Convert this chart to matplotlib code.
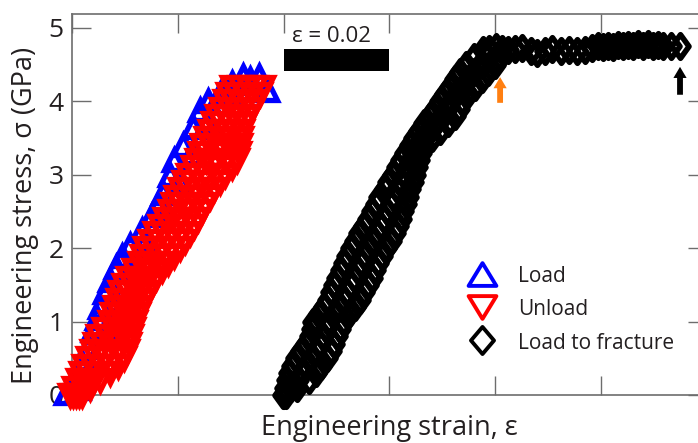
import matplotlib
matplotlib.use("Agg")
import matplotlib.pyplot as plt
from matplotlib.path import Path
from matplotlib.lines import Line2D
from matplotlib.patches import Rectangle

plt.rcParams['font.family'] = ['Open Sans', 'DejaVu Sans']

# ---------------- data (strain, stress in GPa) ----------------
load_strain = [-0.00113, 0.00075, 0.00189, 0.00302, 0.00396, 0.00472, 0.00528, 0.00623,
               0.00717, 0.00830, 0.00943, 0.01094, 0.01321, 0.01509, 0.01623, 0.01717,
               0.01849, 0.01925, 0.02094, 0.02283, 0.02415, 0.02566, 0.02792, 0.03019,
               0.03227, 0.03528,
               0.00113, 0.00434, 0.00642, 0.00811, 0.01038, 0.01377, 0.01755, 0.02038,
               0.02264, 0.02547, 0.02943, 0.03359, 0.03680]
load_stress = [0.03, 0.20, 0.44, 0.65, 0.89, 1.05, 1.20, 1.40,
               1.57, 1.75, 1.90, 2.05, 2.25, 2.45, 2.60, 2.75,
               3.00, 3.20, 3.40, 3.65, 3.88, 4.00, 4.10, 4.25,
               4.35, 4.35,
               0.10, 0.50, 0.90, 1.30, 1.70, 2.10, 2.50, 2.90,
               3.30, 3.70, 4.10, 4.30, 4.15]

unload_stress = [0.0, 0.2, 0.4, 0.6, 0.8, 1.0, 1.2, 1.4, 1.6, 1.8, 2.0,
                 2.2, 2.4, 2.6, 2.8, 3.0, 3.2, 3.4, 3.6, 3.8, 4.0, 4.2] * 5 + \
                [0.1, 0.3, 0.5, 0.7, 0.9, 1.1, 1.3, 1.5, 1.7, 1.9, 2.1,
                 2.3, 2.5, 2.7, 2.9, 3.1, 3.3, 3.5, 3.7, 3.9, 4.1] * 3
unload_strain = [
    # inner edge
    -0.00038, 0.00113, 0.00226, 0.00377, 0.00491, 0.00717, 0.00811, 0.00906, 0.01057, 0.01283, 0.01377,
    0.01566, 0.01755, 0.01906, 0.02038, 0.02189, 0.02359, 0.02453, 0.02604, 0.02736, 0.02887, 0.03019,
    # inner-middle
    0.00019, 0.00208, 0.00387, 0.00538, 0.00642, 0.00830, 0.00934, 0.01038, 0.01189, 0.01415, 0.01538,
    0.01727, 0.01897, 0.02038, 0.02180, 0.02349, 0.02529, 0.02623, 0.02755, 0.02887, 0.03029, 0.03170,
    # middle
    0.00075, 0.00302, 0.00547, 0.00698, 0.00792, 0.00943, 0.01057, 0.01170, 0.01321, 0.01547, 0.01698,
    0.01887, 0.02038, 0.02170, 0.02321, 0.02509, 0.02698, 0.02792, 0.02906, 0.03038, 0.03170, 0.03321,
    # middle-outer
    0.00132, 0.00415, 0.00708, 0.00868, 0.00953, 0.01066, 0.01180, 0.01302, 0.01453, 0.01679, 0.01868,
    0.02057, 0.02208, 0.02340, 0.02500, 0.02698, 0.02906, 0.02981, 0.03057, 0.03180, 0.03312, 0.03463,
    # outer edge
    0.00189, 0.00528, 0.00868, 0.01038, 0.01113, 0.01189, 0.01302, 0.01434, 0.01585, 0.01811, 0.02038,
    0.02226, 0.02377, 0.02509, 0.02679, 0.02887, 0.03113, 0.03170, 0.03208, 0.03321, 0.03453, 0.03604,
    # staggered rows
    0.00038, 0.00170, 0.00302, 0.00434, 0.00604, 0.00755, 0.00868, 0.00981, 0.01170, 0.01321, 0.01472,
    0.01660, 0.01849, 0.01962, 0.02113, 0.02283, 0.02415, 0.02528, 0.02660, 0.02811, 0.02943,
    0.00189, 0.00434, 0.00642, 0.00755, 0.00887, 0.01000, 0.01113, 0.01245, 0.01434, 0.01623, 0.01792,
    0.01981, 0.02151, 0.02283, 0.02453, 0.02660, 0.02792, 0.02868, 0.02962, 0.03094, 0.03245,
    0.00340, 0.00717, 0.00981, 0.01075, 0.01151, 0.01245, 0.01358, 0.01509, 0.01698, 0.01925, 0.02132,
    0.02302, 0.02453, 0.02604, 0.02792, 0.03019, 0.03151, 0.03189, 0.03264, 0.03396, 0.03547,
]

fracture_strain = [
    # left edge (even rows)
    0.03981, 0.04057, 0.04151, 0.04321, 0.04491, 0.04547, 0.04755, 0.04887, 0.05000, 0.05132, 0.05264,
    0.05415, 0.05585, 0.05736, 0.05906, 0.06075, 0.06226, 0.06396, 0.06566, 0.06774, 0.06962, 0.07151,
    0.07340, 0.07604,
    # centre (even rows)
    0.04009, 0.04264, 0.04425, 0.04604, 0.04745, 0.04830, 0.05047, 0.05198, 0.05330, 0.05453, 0.05594,
    0.05764, 0.05896, 0.06028, 0.06151, 0.06283, 0.06396, 0.06528, 0.06764, 0.07009, 0.07170, 0.07387,
    0.07604, 0.07849,
    # right edge (even rows)
    0.04038, 0.04472, 0.04698, 0.04887, 0.05000, 0.05113, 0.05340, 0.05509, 0.05660, 0.05774, 0.05925,
    0.06113, 0.06208, 0.06321, 0.06396, 0.06491, 0.06566, 0.06660, 0.06962, 0.07245, 0.07377, 0.07623,
    0.07868, 0.08094,
    # left edge (odd rows)
    0.04019, 0.04094, 0.04226, 0.04415, 0.04528, 0.04660, 0.04830, 0.04943, 0.05075, 0.05189, 0.05340,
    0.05509, 0.05660, 0.05811, 0.05981, 0.06151, 0.06302, 0.06472, 0.06660, 0.06868, 0.07057, 0.07245,
    0.07453,
    # centre (odd rows)
    0.04132, 0.04340, 0.04509, 0.04679, 0.04792, 0.04943, 0.05132, 0.05264, 0.05396, 0.05509, 0.05679,
    0.05830, 0.05962, 0.06075, 0.06208, 0.06340, 0.06453, 0.06642, 0.06887, 0.07094, 0.07264, 0.07491,
    0.07717,
    # right edge (odd rows)
    0.04245, 0.04604, 0.04811, 0.04943, 0.05057, 0.05226, 0.05434, 0.05585, 0.05717, 0.05849, 0.06019,
    0.06170, 0.06264, 0.06358, 0.06453, 0.06528, 0.06604, 0.06811, 0.07113, 0.07321, 0.07491, 0.07755,
    0.08000,
    # knee and plateau
    0.07774, 0.07887, 0.08019, 0.08132, 0.08245, 0.08377, 0.08509, 0.08679, 0.08792, 0.08943, 0.09075,
    0.09245, 0.09396, 0.09547, 0.09698, 0.09830, 0.09943, 0.10038, 0.10132, 0.10226, 0.10321, 0.10415,
    0.10509, 0.10604, 0.10698, 0.10792, 0.10887, 0.10981, 0.11075, 0.11170, 0.11321, 0.11491,
]
fracture_stress = [
    0.0, 0.2, 0.4, 0.6, 0.8, 1.0, 1.2, 1.4, 1.6, 1.8, 2.0,
    2.2, 2.4, 2.6, 2.8, 3.0, 3.2, 3.4, 3.6, 3.8, 4.0, 4.2,
    4.4, 4.6,
    0.0, 0.2, 0.4, 0.6, 0.8, 1.0, 1.2, 1.4, 1.6, 1.8, 2.0,
    2.2, 2.4, 2.6, 2.8, 3.0, 3.2, 3.4, 3.6, 3.8, 4.0, 4.2,
    4.4, 4.6,
    0.0, 0.2, 0.4, 0.6, 0.8, 1.0, 1.2, 1.4, 1.6, 1.8, 2.0,
    2.2, 2.4, 2.6, 2.8, 3.0, 3.2, 3.4, 3.6, 3.8, 4.0, 4.2,
    4.4, 4.6,
    0.1, 0.3, 0.5, 0.7, 0.9, 1.1, 1.3, 1.5, 1.7, 1.9, 2.1,
    2.3, 2.5, 2.7, 2.9, 3.1, 3.3, 3.5, 3.7, 3.9, 4.1, 4.3,
    4.5,
    0.1, 0.3, 0.5, 0.7, 0.9, 1.1, 1.3, 1.5, 1.7, 1.9, 2.1,
    2.3, 2.5, 2.7, 2.9, 3.1, 3.3, 3.5, 3.7, 3.9, 4.1, 4.3,
    4.5,
    0.1, 0.3, 0.5, 0.7, 0.9, 1.1, 1.3, 1.5, 1.7, 1.9, 2.1,
    2.3, 2.5, 2.7, 2.9, 3.1, 3.3, 3.5, 3.7, 3.9, 4.1, 4.3,
    4.5,
    4.70, 4.72, 4.74, 4.72, 4.70, 4.72, 4.73, 4.68, 4.66, 4.68, 4.72,
    4.68, 4.70, 4.68, 4.70, 4.73, 4.76, 4.74, 4.76, 4.74, 4.77, 4.75,
    4.77, 4.75, 4.78, 4.76, 4.78, 4.76, 4.77, 4.75, 4.76, 4.75,
]

series_labels = ["Load", "Unload", "Load to fracture"]
x_ticks = [0.0, 0.02, 0.04, 0.06, 0.08, 0.10, 0.12]
y_ticks = [0, 1, 2, 3, 4, 5]
scale_bar = 0.02               # strain length of scale bar
arrow_orange_strain = 0.0809   # onset of plateau
arrow_black_strain = 0.1149    # fracture
arrow_orange_stress = (3.98, 4.33)
arrow_black_stress = (4.09, 4.47)

# ---------------- figure ----------------
W, H = 698, 443
fig = plt.figure(figsize=(W / 100, H / 100), dpi=100)
ax = fig.add_axes([72 / W, 48 / H, 635 / W, 381 / H])

gray = '#6d6d6d'
txt = '#231f20'

# custom diamond (taller than wide)
diamond = Path([(0, 1), (0.72, 0), (0, -1), (-0.72, 0), (0, 1)],
               [Path.MOVETO, Path.LINETO, Path.LINETO, Path.LINETO, Path.CLOSEPOLY])

ax.plot(load_strain, load_stress, linestyle='none', marker='^', ms=14,
        mfc='none', mec='#0000ff', mew=3.8, clip_on=False, zorder=3)
ax.plot(unload_strain, unload_stress, linestyle='none', marker='v', ms=14,
        mfc='none', mec='#ff0000', mew=3.8, clip_on=False, zorder=4)
ax.plot(fracture_strain, fracture_stress, linestyle='none', marker=diamond, ms=17,
        mfc='none', mec='black', mew=4.0, clip_on=False, zorder=5)

ax.set_xlim(0, 0.12)
ax.set_ylim(0, 5.19)
ax.set_xticks(x_ticks)
ax.set_xticklabels([])
ax.set_yticks(y_ticks)
ax.set_yticklabels([str(v) for v in y_ticks])
ax.tick_params(direction='in', length=13.5, width=1.0, color=gray,
               top=True, right=True, labelsize=19, labelcolor=txt, pad=6.0)
for sp in ax.spines.values():
    sp.set_color(gray)
    sp.set_linewidth(1.2)

ax.set_xlabel('Engineering strain, ε', fontsize=19.5, color=txt)
ax.set_ylabel('Engineering stress, σ (GPa)', fontsize=19.5, color=txt)
ax.xaxis.set_label_coords(0.5, -0.051)
ax.yaxis.set_label_coords(-0.052, 0.47)

# scale bar
ax.add_patch(Rectangle((0.04, 4.41), scale_bar, 0.30, facecolor='black',
                       edgecolor='none', zorder=6))
ax.text(0.04 + scale_bar / 2 - 0.0010, 4.88, 'ε = 0.02', ha='center', va='center',
        fontsize=16, color=txt)

# arrows
style = 'simple,head_length=0.8,head_width=0.95,tail_width=0.42'
ax.annotate('', xy=(arrow_orange_strain, arrow_orange_stress[1]),
            xytext=(arrow_orange_strain, arrow_orange_stress[0]),
            arrowprops=dict(arrowstyle=style, fc='#ff7f11', ec='none',
                            mutation_scale=10, shrinkA=0, shrinkB=0))
ax.annotate('', xy=(arrow_black_strain, arrow_black_stress[1]),
            xytext=(arrow_black_strain, arrow_black_stress[0]),
            arrowprops=dict(arrowstyle=style, fc='black', ec='none',
                            mutation_scale=10, shrinkA=0, shrinkB=0))

# legend
tri_up = Path([(-1, -0.82), (1, -0.82), (0, 0.82), (-1, -0.82)],
              [Path.MOVETO, Path.LINETO, Path.LINETO, Path.CLOSEPOLY])
tri_dn = Path([(-1, 0.82), (1, 0.82), (0, -0.82), (-1, 0.82)],
              [Path.MOVETO, Path.LINETO, Path.LINETO, Path.CLOSEPOLY])
dia_l = Path([(0, 1), (0.85, 0), (0, -1), (-0.85, 0), (0, 1)],
             [Path.MOVETO, Path.LINETO, Path.LINETO, Path.LINETO, Path.CLOSEPOLY])
handles = [
    Line2D([], [], linestyle='none', marker=tri_up, ms=20, mfc='none', mec='#0000ff', mew=2.8),
    Line2D([], [], linestyle='none', marker=tri_dn, ms=20, mfc='none', mec='#ff0000', mew=2.8),
    Line2D([], [], linestyle='none', marker=dia_l, ms=19.5, mfc='none', mec='black', mew=2.8),
]
leg = ax.legend(handles, series_labels, loc='upper left',
                bbox_to_anchor=(0.6227, 0.34), frameon=False, fontsize=15,
                handlelength=1.4, handletextpad=1.03, labelspacing=0.57,
                borderpad=0, borderaxespad=0, handleheight=1.0)
for t in leg.get_texts():
    t.set_color(txt)

fig.savefig('out.png', dpi=100)
